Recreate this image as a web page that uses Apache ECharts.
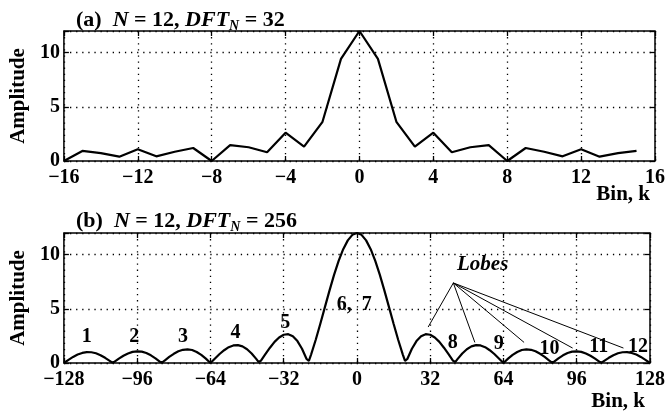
<!DOCTYPE html>
<html><head><meta charset="utf-8">
<script src="https://cdn.jsdelivr.net/npm/echarts@6/dist/echarts.min.js"></script>
<style>html,body{margin:0;padding:0;background:#fff}#c{width:668px;height:415px}</style>
</head><body><div id="c"></div>
<script>
// ---- Data ----
const binsA = [-16,-15,-14,-13,-12,-11,-10,-9,-8,-7,-6,-5,-4,-3,-2,-1,0,1,2,3,4,5,6,7,8,9,10,11,12,13,14,15];
const ampA  = [0,0.93,0.72,0.40,1.08,0.43,0.85,1.20,0,1.46,1.27,0.81,2.61,1.32,3.62,9.43,12,9.43,3.62,1.32,2.61,0.81,1.27,1.46,0,1.20,0.85,0.43,1.08,0.40,0.72,0.93];

const binsB = [-128,-126,-124,-122,-120,-118,-116,-114,-112,-110,-108,-107,-106,-104,-102,-100,-98,-96,-94,-92,-90,-88,-86,-85,-84,-82,-80,-78,-76,-74,-72,-70,-68,-66,-64,-62,-60,-58,-56,-54,-52,-50,-48,-46,-44,-43,-42,-40,-38,-36,-34,-32,-30,-28,-26,-24,-22,-21,-20,-18,-16,-14,-12,-10,-8,-6,-4,-2,
  0,2,4,6,8,10,12,14,16,18,20,21,22,24,26,28,30,32,34,36,38,40,42,43,44,46,48,50,52,54,56,58,60,62,64,66,68,70,72,74,76,78,80,82,84,85,86,88,90,92,94,96,98,100,102,104,106,107,108,110,112,114,116,118,120,122,124,126,128];
const ampB = [0,0.29,0.56,0.78,0.93,1.00,0.99,0.90,0.72,0.48,0.20,0.05,0.10,0.40,0.67,0.88,1.03,1.08,1.05,0.92,0.71,0.43,0.11,0.06,0.23,0.56,0.85,1.08,1.22,1.26,1.20,1.02,0.75,0.40,0,0.42,0.83,1.18,1.46,1.62,1.65,1.53,1.27,0.88,0.38,0.10,0.20,0.81,1.41,1.95,2.36,2.61,2.66,2.47,2.02,1.32,0.37,0.19,0.80,2.15,3.62,5.16,6.68,8.13,9.43,10.51,11.32,11.83,
  12,11.83,11.32,10.51,9.43,8.13,6.68,5.16,3.62,2.15,0.80,0.19,0.37,1.32,2.02,2.47,2.66,2.61,2.36,1.95,1.41,0.81,0.20,0.10,0.38,0.88,1.27,1.53,1.65,1.62,1.46,1.18,0.83,0.42,0,0.40,0.75,1.02,1.20,1.26,1.22,1.08,0.85,0.56,0.23,0.06,0.11,0.43,0.71,0.92,1.05,1.08,1.03,0.88,0.67,0.40,0.10,0.05,0.20,0.48,0.72,0.90,0.99,1.00,0.93,0.78,0.56,0.29,0];

const xTicksA = [-16,-12,-8,-4,0,4,8,12,16];
const xTicksB = [-128,-96,-64,-32,0,32,64,96,128];
const yTicks  = [0,5,10];
const yMax = 12;

const lobeLabels = ['1','2','3','4','5','6,  7','8','9','10','11','12'];

// ---- Chart ----
const FF = '"Liberation Serif","DejaVu Serif",serif';
const chart = echarts.init(document.getElementById('c'), null, {renderer:'canvas'});
const fmt = v => String(v).replace('-', '\u2212');
const dotted = {show:true, lineStyle:{color:'#000', width:1.3, type:[1.3,4.8]}};

function xAx(grid, ticks, pos, labels) {
  return {
    type:'value', gridIndex:grid, position:pos,
    min:ticks[0], max:ticks[ticks.length-1], interval:ticks[1]-ticks[0],
    axisLine:{show:false, onZero:false},
    axisTick:{show:true, inside:true, length:5, lineStyle:{color:'#000', width:1.3}},
    axisLabel:{show:labels, formatter:fmt, color:'#000', fontFamily:FF, fontWeight:'bold', fontSize:20, margin:7},
    splitLine: labels ? dotted : {show:false}
  };
}
function yAx(grid, pos, labels) {
  return {
    type:'value', gridIndex:grid, position:pos,
    min:0, max:yMax, interval:yTicks[1]-yTicks[0],
    axisLine:{show:false, onZero:false},
    axisTick:{show:true, inside:true, length:5, lineStyle:{color:'#000', width:1.3}},
    axisLabel:{show:labels, color:'#000', fontFamily:FF, fontWeight:'bold', fontSize:20, margin:4,
      formatter: v => yTicks.indexOf(v) >= 0 ? String(v) : ''},
    splitLine: labels ? dotted : {show:false},
    name: labels ? 'Amplitude' : '', nameLocation:'middle', nameGap:31, nameRotate:90,
    nameTextStyle:{color:'#000', fontFamily:FF, fontWeight:'bold', fontSize:21}
  };
}

const titleStyle = {
  color:'#000', fontFamily:FF, fontWeight:'bold', fontSize:22, lineHeight:26,
  rich:{
    i:{fontFamily:FF, fontWeight:'bold', fontStyle:'italic', fontSize:22, lineHeight:26, color:'#000'},
    s:{fontFamily:FF, fontWeight:'bold', fontStyle:'italic', fontSize:14, lineHeight:14, verticalAlign:'bottom', color:'#000'}
  }
};

chart.setOption({
  animation:false,
  backgroundColor:'#fff',
  title:[
    {left:71, top:2, text:'(a)  {i|N} = 12, {i|DFT}{s|N} = 32', textStyle:titleStyle},
    {left:71, top:203, text:'(b)  {i|N} = 12, {i|DFT}{s|N} = 256', textStyle:titleStyle}
  ],
  grid:[
    {left:62, right:11, top:31, height:130, show:true, borderColor:'#000', borderWidth:1.5},
    {left:62, right:11, top:233, height:130, show:true, borderColor:'#000', borderWidth:1.5}
  ],
  xAxis:[xAx(0,xTicksA,'bottom',true), xAx(0,xTicksA,'top',false), xAx(1,xTicksB,'bottom',true), xAx(1,xTicksB,'top',false)],
  yAxis:[yAx(0,'left',true), yAx(0,'right',false), yAx(1,'left',true), yAx(1,'right',false)],
  series:[
    {type:'line', xAxisIndex:0, yAxisIndex:0, symbol:'none', data:binsA.map((b,i)=>[b,ampA[i]]),
      lineStyle:{color:'#000', width:2.2}, clip:false},
    {type:'line', xAxisIndex:2, yAxisIndex:2, symbol:'none', data:binsB.map((b,i)=>[b,ampB[i]]),
      lineStyle:{color:'#000', width:2.2}, clip:false}
  ]
});

// ---- Annotations (placed in data coordinates of panel b) ----
const P = (k,a) => chart.convertToPixel({xAxisIndex:2, yAxisIndex:2}, [k,a]);
const labelPos = [[-118,2.46],[-97.3,2.46],[-76,2.46],[-53,2.8],[-31.3,3.75],[-1.2,5.4],[41.8,1.9],[61.9,1.78],[84.1,1.29],[105.6,1.53],[122.8,1.53]];
const hub = [42.1,7.39];
const lineEnds = [[31.1,3.32],[51.5,1.9],[73,1.9],[94.2,1.38],[116.4,1.38]];
const g = [];
lobeLabels.forEach((t,i) => {
  const p = P(labelPos[i][0], labelPos[i][1]);
  g.push({type:'text', x:p[0], y:p[1], z:10, style:{text:t, fill:'#000', font:'bold 20px '+FF, align:'center', verticalAlign:'middle', textAlign:'center', textVerticalAlign:'middle'}});
});
const ph = P(hub[0], hub[1]);
lineEnds.forEach(e => {
  const p = P(e[0], e[1]);
  g.push({type:'line', z:9, shape:{x1:ph[0], y1:ph[1], x2:p[0], y2:p[1]}, style:{stroke:'#000', lineWidth:1}});
});
const pl = P(54.9, 9.08);
g.push({type:'text', x:pl[0], y:pl[1], z:10, style:{text:'Lobes', fill:'#000', font:'italic bold 21px '+FF, align:'center', verticalAlign:'middle', textAlign:'center', textVerticalAlign:'middle'}});
// axis names "Bin, k"
[[0, xTicksA, 34], [2, xTicksB, 39]].forEach(([ix, ticks, dy]) => {
  const p = chart.convertToPixel({xAxisIndex:ix, yAxisIndex:ix}, [ticks[ticks.length-1], 0]);
  g.push({type:'text', x:p[0]-5, y:p[1]+dy, z:10, style:{text:'Bin, k', fill:'#000', font:'bold 21px '+FF, align:'right', verticalAlign:'middle', textAlign:'right', textVerticalAlign:'middle'}});
});
chart.setOption({graphic:g});
</script>
</body></html>
